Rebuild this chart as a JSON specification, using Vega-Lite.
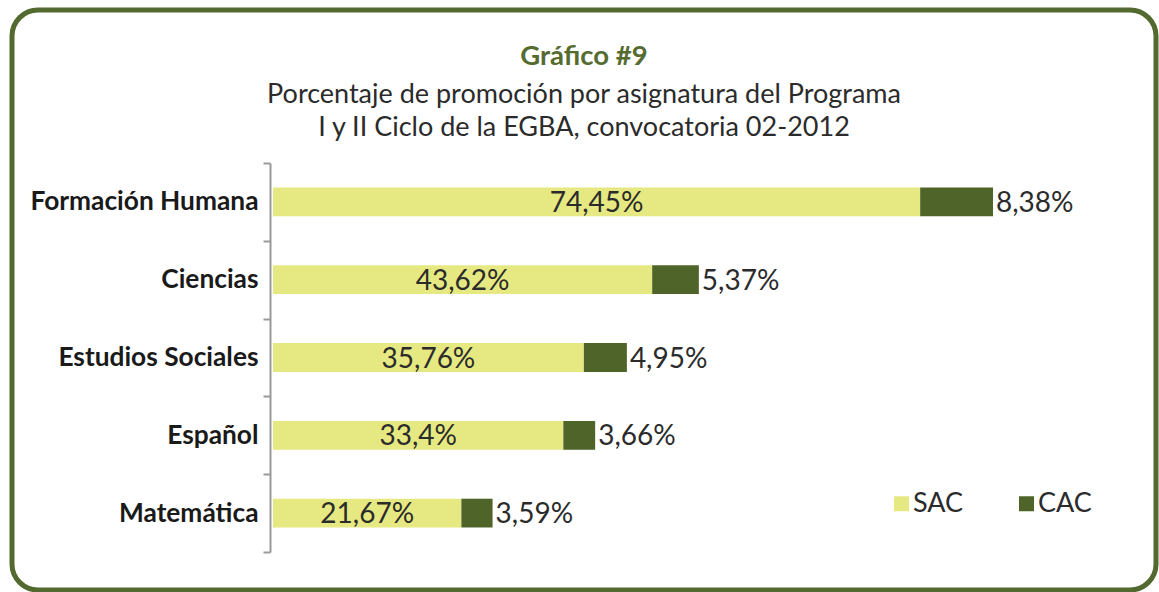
{
  "$schema": "https://vega.github.io/schema/vega-lite/v6.json",
  "autosize": {"type": "none"},
  "padding": {"left": 12, "top": 10, "right": 3, "bottom": 2},
  "width": 1144,
  "height": 580,
  "background": "white",
  "title": {
    "text": "Gráfico #9",
    "subtitle": ["Porcentaje de promoción por asignatura del Programa", "I y II Ciclo de la EGBA, convocatoria 02-2012"],
    "anchor": "middle",
    "frame": "group",
    "offset": -144,
    "font": "Lato",
    "fontSize": 27.5,
    "fontWeight": "bold",
    "color": "#556b2f",
    "subtitleFont": "Lato",
    "subtitleFontSize": 27,
    "subtitleColor": "#2b2b2b",
    "subtitleLineHeight": 33,
    "subtitlePadding": 12
  },
  "data": {
    "values": [
      {"asignatura": "Formación Humana", "serie": "SAC", "valor": 74.45, "etiqueta": "74,45%"},
      {"asignatura": "Formación Humana", "serie": "CAC", "valor": 8.38, "etiqueta": "8,38%"},
      {"asignatura": "Ciencias", "serie": "SAC", "valor": 43.62, "etiqueta": "43,62%"},
      {"asignatura": "Ciencias", "serie": "CAC", "valor": 5.37, "etiqueta": "5,37%"},
      {"asignatura": "Estudios Sociales", "serie": "SAC", "valor": 35.76, "etiqueta": "35,76%"},
      {"asignatura": "Estudios Sociales", "serie": "CAC", "valor": 4.95, "etiqueta": "4,95%"},
      {"asignatura": "Español", "serie": "SAC", "valor": 33.4, "etiqueta": "33,4%"},
      {"asignatura": "Español", "serie": "CAC", "valor": 3.66, "etiqueta": "3,66%"},
      {"asignatura": "Matemática", "serie": "SAC", "valor": 21.67, "etiqueta": "21,67%"},
      {"asignatura": "Matemática", "serie": "CAC", "valor": 3.59, "etiqueta": "3,59%"}
    ]
  },
  "encoding": {
    "y": {
      "field": "asignatura",
      "type": "nominal",
      "sort": null,
      "title": null,
      "scale": {"range": [153, 542], "paddingInner": 0, "paddingOuter": 0},
      "axis": {
        "orient": "left",
        "offset": -258,
        "tickBand": "extent",
        "domainColor": "#9a9a9a",
        "domainWidth": 2,
        "tickColor": "#9a9a9a",
        "tickWidth": 2,
        "tickSize": 7,
        "labelPadding": 5,
        "labelLimit": 400,
        "labelFont": "Lato",
        "labelFontSize": 26.3,
        "labelFontWeight": "bold",
        "labelColor": "#1a1a1a",
        "grid": false
      }
    }
  },
  "layer": [
    {
      "mark": {"type": "bar", "height": {"band": 0.37}},
      "encoding": {
        "x": {
          "field": "valor",
          "type": "quantitative",
          "stack": "zero",
          "scale": {"domain": [-30.026, 101.58], "nice": false, "zero": false},
          "axis": null
        },
        "color": {
          "field": "serie",
          "type": "nominal",
          "scale": {"domain": ["SAC", "CAC"], "range": ["#e6e982", "#4e6429"]},
          "legend": {
            "orient": "none",
            "legendX": 876,
            "legendY": 480,
            "direction": "horizontal",
            "title": null,
            "symbolType": "square",
            "symbolSize": 225,
            "symbolStrokeWidth": 0,
            "labelFont": "Lato",
            "labelFontSize": 27,
            "labelColor": "#2b2b2b",
            "labelOffset": -2,
            "columnPadding": 49
          }
        },
        "order": {"field": "serie", "sort": "descending"}
      }
    },
    {
      "mark": {"type": "text", "align": "left", "baseline": "middle", "dx": 3, "dy": 2, "font": "Lato", "fontSize": 28, "color": "#2b2b2b"},
      "encoding": {
        "x": {"field": "valor", "type": "quantitative", "stack": "zero"},
        "order": {"field": "serie", "sort": "descending"},
        "text": {"condition": {"test": "datum.serie === 'CAC'", "field": "etiqueta"}, "value": ""}
      }
    },
    {
      "transform": [
        {"filter": "datum.serie === 'SAC'"},
        {"calculate": "datum.valor / 2", "as": "mitad"}
      ],
      "mark": {"type": "text", "align": "center", "baseline": "middle", "dy": 2, "font": "Lato", "fontSize": 28, "color": "#2b2b2b"},
      "encoding": {
        "x": {"field": "mitad", "type": "quantitative"},
        "text": {"field": "etiqueta"}
      }
    }
  ],
  "config": {
    "view": {"stroke": "#526a2f", "strokeWidth": 5, "cornerRadius": 26},
    "font": "Lato"
  }
}
